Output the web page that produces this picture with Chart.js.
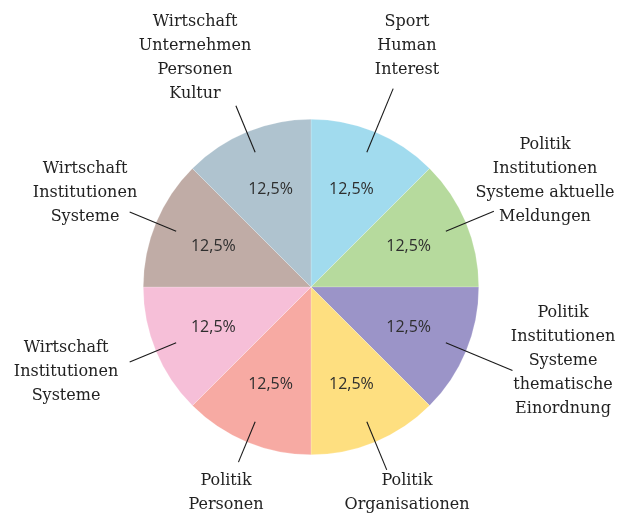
<!DOCTYPE html>
<html>
<head>
<meta charset="utf-8">
<script src="https://cdn.jsdelivr.net/npm/chart.js@4/dist/chart.umd.min.js"></script>
<style>
  html, body { margin: 0; padding: 0; background: #fff; }
  #wrap { width: 618px; height: 513px; }
</style>
</head>
<body>
<div id="wrap"><canvas id="themenChart"></canvas></div>
<script>
// categories, one entry per slice, lines of the outside label
const categories = [
    ['Sport', 'Human', 'Interest'],
    ['Politik', 'Institutionen', 'Systeme aktuelle', 'Meldungen'],
    ['Politik', 'Institutionen', 'Systeme', 'thematische', 'Einordnung'],
    ['Politik', 'Organisationen'],
    ['Politik', 'Personen'],
    ['Wirtschaft', 'Institutionen', 'Systeme'],
    ['Wirtschaft', 'Institutionen', 'Systeme'],
    ['Wirtschaft', 'Unternehmen', 'Personen', 'Kultur']
];
const shares = [12.5, 12.5, 12.5, 12.5, 12.5, 12.5, 12.5, 12.5];
const sliceColors = ['#a1dbee', '#b6da9d', '#9b94c8', '#fedf80', '#f7aaa3', '#f6bfd8', '#c0aca6', '#afc3cf'];

// where each outside label sits, relative to the pie centre (dx, top line dy) and where its leader line ends
const labelLayout = [
    { dx: 96,   dy: -265, lineEnd: 1.28 },
    { dx: 234,  dy: -142, lineEnd: 1.18 },
    { dx: 252,  dy: 26,   lineEnd: 1.30 },
    { dx: 96,   dy: 194,  lineEnd: 1.18 },
    { dx: -85,  dy: 194,  lineEnd: 1.13 },
    { dx: -245, dy: 61,   lineEnd: 1.17 },
    { dx: -226, dy: -118, lineEnd: 1.17 },
    { dx: -116, dy: -265, lineEnd: 1.17 }
];

const outsideLabels = {
    id: 'outsideLabels',
    afterDatasetsDraw(chart) {
        const ctx = chart.ctx;
        const meta = chart.getDatasetMeta(0);
        ctx.save();
        meta.data.forEach((arc, i) => {
            const p = arc.getProps(['x', 'y', 'startAngle', 'endAngle', 'outerRadius'], true);
            const mid = (p.startAngle + p.endAngle) / 2;
            const r = p.outerRadius;

            // percent text inside the slice
            const pr = r * 0.63;
            ctx.fillStyle = '#2e2e2e';
            ctx.font = '16px "Open Sans"';
            ctx.textAlign = 'center';
            ctx.textBaseline = 'middle';
            ctx.fillText(shares[i].toFixed(1).replace('.', ',') + '%', p.x + Math.cos(mid) * pr, p.y + Math.sin(mid) * pr);

            // leader line
            const lay = labelLayout[i];
            ctx.strokeStyle = '#1a1a1a';
            ctx.lineWidth = 1.1;
            ctx.beginPath();
            ctx.moveTo(p.x + Math.cos(mid) * r * 0.87, p.y + Math.sin(mid) * r * 0.87);
            ctx.lineTo(p.x + Math.cos(mid) * r * lay.lineEnd, p.y + Math.sin(mid) * r * lay.lineEnd);
            ctx.stroke();

            // category text
            ctx.fillStyle = '#222';
            ctx.font = '16px "DejaVu Serif"';
            categories[i].forEach((line, k) => {
                ctx.fillText(line, p.x + lay.dx, p.y + lay.dy + k * 24);
            });
        });
        ctx.restore();
    }
};

const ctx = document.getElementById('themenChart').getContext('2d');
const themenChart = new Chart(ctx, {
    type: 'pie',
    data: {
        labels: categories.map(c => c.join(' ')),
        datasets: [{
            data: shares,
            backgroundColor: sliceColors,
            borderColor: 'rgba(255, 255, 255, 0.4)',
            borderWidth: 0.5
        }]
    },
    options: {
        responsive: true,
        maintainAspectRatio: false,
        animation: false,
        layout: {
            padding: { top: 119, bottom: 58, left: 143, right: 139 }
        },
        plugins: {
            legend: { display: false },
            tooltip: { enabled: false }
        }
    },
    plugins: [outsideLabels]
});
</script>
</body>
</html>
